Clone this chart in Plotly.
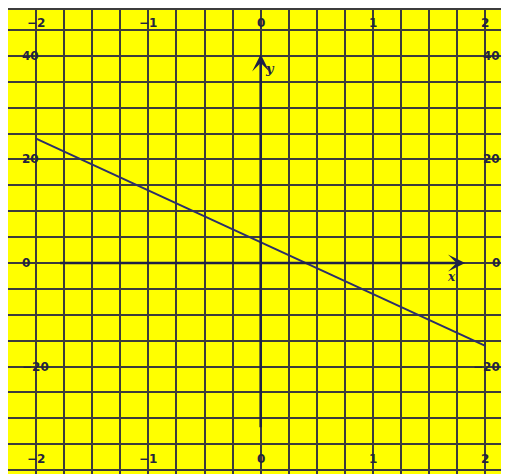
import plotly.graph_objects as go

# data
line_x = [-2, 2]
line_y = [24, -16]
x_tick_vals = [-2, -1, 0, 1, 2]
x_tick_text = ["\u22122", "\u22121", "0", "1", "2"]
y_tick_vals = [40, 20, 0, -20]
y_tick_text = ["40", "20", "0", "\u221220"]

YELLOW = "#ffff00"
GRID = "#3c3c3c"
NAVY = "#1e2148"
FONT = dict(family="DejaVu Sans", size=12, color="#23233f")

fig = go.Figure()
fig.add_trace(go.Scatter(x=line_x, y=line_y, mode="lines",
                         line=dict(color="#2b2e6a", width=2), hoverinfo="skip",
                         showlegend=False))

ann = []
# axes arrows
ann.append(dict(x=1.82, y=0, ax=-1.8, ay=0, xref="x", yref="y", axref="x", ayref="y",
                showarrow=True, arrowhead=3, arrowsize=1.1, arrowwidth=2.6, arrowcolor=NAVY, text=""))
ann.append(dict(x=0, y=40.3, ax=0, ay=-32, xref="x", yref="y", axref="x", ayref="y",
                showarrow=True, arrowhead=3, arrowsize=1.1, arrowwidth=2.6, arrowcolor=NAVY, text=""))
ann.append(dict(x=1.70, y=-2.7, xref="x", yref="y", text="<b><i>x</i></b>", showarrow=False,
                font=dict(family="DejaVu Serif", size=12, color=NAVY)))
ann.append(dict(x=0.085, y=37.6, xref="x", yref="y", text="<b><i>y</i></b>", showarrow=False,
                font=dict(family="DejaVu Serif", size=13, color=NAVY)))
# tick labels
for v, t in zip(x_tick_vals, x_tick_text):
    for yy in (46.3, -37.9):
        ann.append(dict(x=v, y=yy, xref="x", yref="y", text="<b>%s</b>" % t, showarrow=False,
                        font=FONT, xanchor="center", yanchor="middle"))
for v, t in zip(y_tick_vals, y_tick_text):
    ann.append(dict(x=-2.135, y=v, xref="x", yref="y", text="<b>%s</b>" % t, showarrow=False,
                    font=FONT, xanchor="left", yanchor="middle", borderpad=0))
    ann.append(dict(x=2.135, y=v, xref="x", yref="y", text="<b>%s</b>" % t, showarrow=False,
                    font=FONT, xanchor="right", yanchor="middle", borderpad=0))

fig.update_layout(
    width=509, height=474,
    margin=dict(l=0, r=0, t=0, b=0),
    paper_bgcolor=YELLOW, plot_bgcolor=YELLOW,
    showlegend=False,
    annotations=ann,
    xaxis=dict(range=[-2.25, 2.264], tick0=0, dtick=0.25, showgrid=True, gridcolor=GRID,
               gridwidth=1.5, zeroline=False, showticklabels=False, ticks="",
               showline=True, linecolor=GRID, linewidth=2, mirror=True, fixedrange=True),
    yaxis=dict(range=[-42.3, 48.85], tick0=0, dtick=5, showgrid=True, gridcolor=GRID,
               gridwidth=1.5, zeroline=False, showticklabels=False, ticks="",
               showline=True, linecolor=GRID, linewidth=2, mirror=True, fixedrange=True),
)

fig.write_html("out.html")
